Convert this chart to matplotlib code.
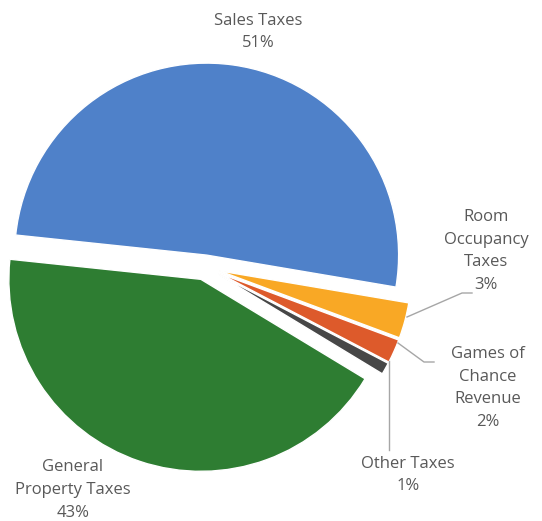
import matplotlib.pyplot as plt

# revenue shares by source
labels = ["Sales Taxes", "Room Occupancy Taxes", "Games of Chance Revenue",
          "Other Taxes", "General Property Taxes"]
shares = [51, 3, 2, 1, 43]
colors = ["#4F81C9", "#F9A825", "#DD5A2B", "#474747", "#2E7D32"]
# offsets in pixel units (pie draws in data coords here)
explode = [12, 15, 15, 15, 13]

plt.rcParams['font.family'] = ['Open Sans', 'DejaVu Sans']
txt = "#595959"
lead = "#A6A6A6"

fig = plt.figure(figsize=(5.42, 5.21), dpi=100)
ax = fig.add_axes([0, 0, 1, 1])

# y axis runs downward, so counterclock=True sweeps clockwise on screen
ax.pie(shares, colors=colors, explode=explode, center=(205, 267), radius=192,
       startangle=-174, counterclock=True, frame=True,
       wedgeprops=dict(linewidth=1.0, edgecolor="white"))
ax.set_xlim(0, 542)
ax.set_ylim(521, 0)
ax.set_aspect("equal")
ax.axis("off")

fs = 12
ls = 1.55
ax.text(258, 32, "Sales Taxes\n51%", ha="center", va="center", fontsize=fs,
        color=txt, linespacing=ls)
ax.text(486, 251, "Room\nOccupancy\nTaxes\n3%", ha="center", va="center",
        fontsize=fs, color=txt, linespacing=ls)
ax.text(488, 388, "Games of\nChance\nRevenue\n2%", ha="center", va="center",
        fontsize=fs, color=txt, linespacing=ls)
ax.text(408, 475, "Other Taxes\n1%", ha="center", va="center", fontsize=fs,
        color=txt, linespacing=ls)
ax.text(73, 490, "General\nProperty Taxes\n43%", ha="center", va="center",
        fontsize=fs, color=txt, linespacing=ls)

# leader lines for the thin slices
ax.plot([407, 462, 472], [317, 293, 293], color=lead, lw=1)
ax.plot([398, 424, 434], [343, 362, 362], color=lead, lw=1)
ax.plot([389, 389], [361, 450], color=lead, lw=1)

fig.savefig("out.png", dpi=100)
